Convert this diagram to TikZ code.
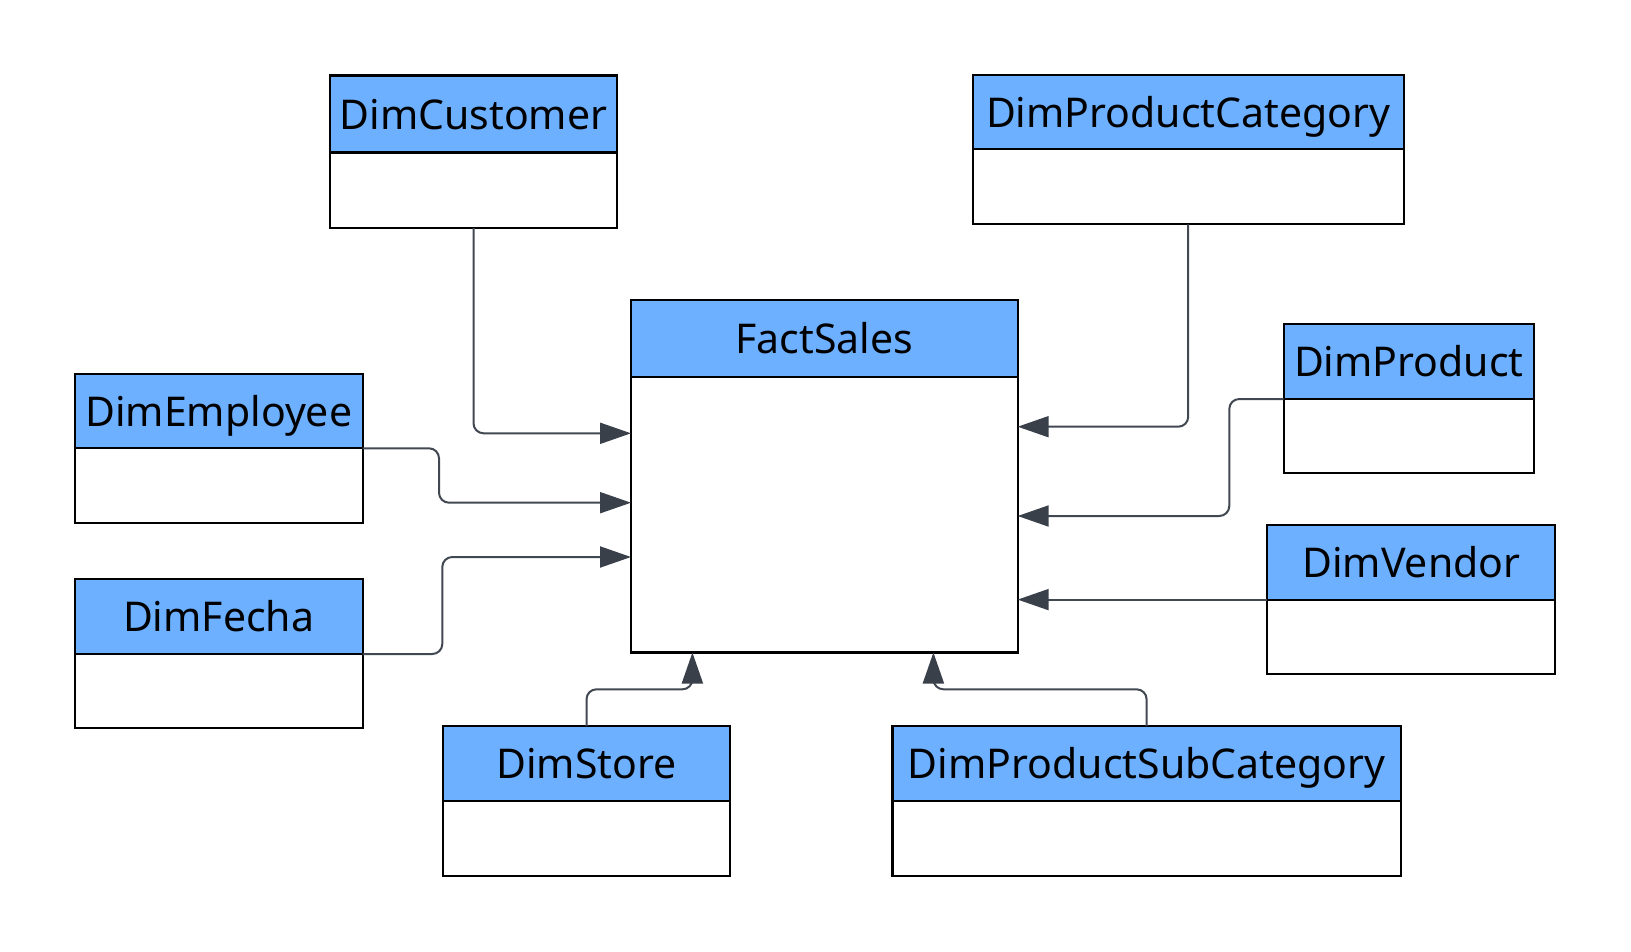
\documentclass[tikz,border=0pt]{standalone}
\usepackage{fontspec}
\setmainfont{Noto Sans}
\usetikzlibrary{arrows.meta,calc}
\definecolor{hdrblue}{RGB}{108,176,255}
\definecolor{connc}{RGB}{66,72,82}
\definecolor{tipc}{RGB}{58,64,74}
\tikzset{
  tblbox/.style={draw=black, line width=2.2pt, inner sep=0pt, outer sep=0pt, rectangle},
  hdrfill/.style={fill=hdrblue},
  divline/.style={draw=black, line width=2.2pt},
  ttl/.style={anchor=base, inner sep=0pt, font=\fontsize{41}{49}\selectfont, text=black},
  conn/.style={draw=connc, line width=2pt, rounded corners=10pt, -{Triangle[length=31pt,width=21pt,color=tipc]}},
}
\newcommand\dimtbl[7]{%
  \fill[hdrfill] (#2,-#3) rectangle (#4,-#6);
  \node[tblbox, minimum width={(#4-#2)*1pt}, minimum height={(#5-#3)*1pt}] (#1) at ({(#2+#4)/2},{-(#3+#5)/2}) {};
  \draw[divline] (#2,-#6) -- (#4,-#6);
  \node[ttl] (#1-t) at ({(#2+#4)/2},{-((#3+#6)/2+15)}) {#7};
}
\begin{document}
\begin{tikzpicture}[x=1pt,y=1pt]
\useasboundingbox[fill=white] (0,0) rectangle (1631,-951);
\dimtbl{cust}{330}{75.5}{617}{228}{152.5}{DimCustomer}
\dimtbl{pcat}{972.7}{75}{1403.7}{224.3}{149.3}{DimProductCategory}
\dimtbl{fact}{631}{300}{1017.7}{652.5}{376.7}{FactSales}
\dimtbl{emp}{74.7}{373.7}{362.7}{523}{448.3}{DimEmployee}
\dimtbl{fecha}{74.7}{579}{362.7}{728.3}{654}{DimFecha}
\dimtbl{prod}{1283.7}{324}{1534}{473.3}{399}{DimProduct}
\dimtbl{vend}{1267.3}{525}{1555.3}{674.3}{599.6}{DimVendor}
\dimtbl{store}{442.7}{726}{730.3}{875.7}{801}{DimStore}
\dimtbl{sub}{892.5}{726}{1400.7}{875.7}{801}{DimProductSubCategory}
% connectors
\draw[conn] (cust.south) |- ([yshift=-133.3pt]fact.north west);
\draw[conn] ([yshift=-74.6pt]emp.north east) -- ++(76.3,0) |- ([yshift=-202.7pt]fact.north west);
\draw[conn] ([yshift=-75pt]fecha.north east) -- ++(79.6,0) |- ([yshift=-257pt]fact.north west);
\draw[conn] (pcat.south) |- ([yshift=-126.7pt]fact.north east);
\draw[conn] ([yshift=-75pt]prod.north west) -- ++(-54.4,0) |- ([yshift=-216pt]fact.north east);
\draw[conn] ([yshift=-74.6pt]vend.north west) -- ([yshift=-299.6pt]fact.north east);
\draw[conn] (store.north) -- ++(0,36.7) -| ([xshift=61.4pt]fact.south west);
\draw[conn] (sub.north) -- ++(0,36.7) -| ([xshift=302.4pt]fact.south west);
\end{tikzpicture}
\end{document}
